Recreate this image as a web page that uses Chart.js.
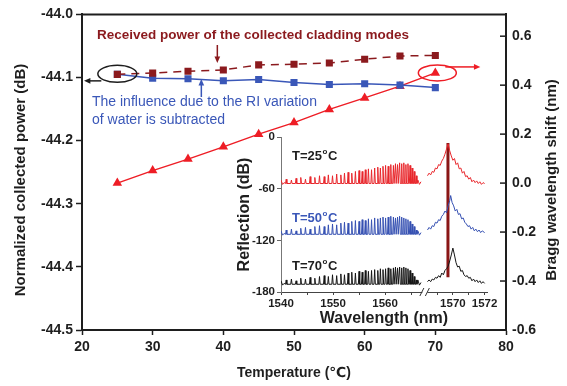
<!DOCTYPE html>
<html>
<head>
<meta charset="utf-8">
<script src="https://cdn.jsdelivr.net/npm/chart.js@4.4.0/dist/chart.umd.min.js"></script>
<style>
html, body { margin: 0; padding: 0; background: #fff; }
#wrap { position: relative; width: 567px; height: 386px; }
#main { position: absolute; left: 0; top: 0; }
#inset { position: absolute; left: 225px; top: 125px; }
</style>
</head>
<body>
<div id="wrap">
  <canvas id="main" width="567" height="386"></canvas>
  <canvas id="inset" width="280" height="205"></canvas>
</div>
<script>
// main plot data
const temps = [25, 30, 35, 40, 45, 50, 55, 60, 65, 70];
const cladPower = [-44.095, -44.093, -44.090, -44.088, -44.080, -44.079, -44.077, -44.071, -44.066, -44.065];
const corrPower = [-44.095, -44.101, -44.102, -44.105, -44.103, -44.108, -44.111, -44.110, -44.112, -44.116];
const braggShift = [0.00, 0.051, 0.098, 0.148, 0.200, 0.247, 0.301, 0.348, 0.396, 0.450];

const xTicks = [20, 30, 40, 50, 60, 70, 80];
const leftTicks = [-44.5, -44.4, -44.3, -44.2, -44.1, -44.0];
const rightTicks = [-0.6, -0.4, -0.2, 0, 0.2, 0.4, 0.6];

// inset spectra data (wavelength nm, reflection dB)
const fringePeaks = [1541.0, 1542.0, 1542.9, 1543.8, 1544.7, 1545.6, 1546.5, 1547.4, 1548.3, 1549.1,
  1549.9, 1550.7, 1551.5, 1552.2, 1552.9, 1553.6, 1554.3, 1555.0, 1555.6, 1556.2,
  1556.8, 1557.4, 1558.0, 1558.6, 1559.1, 1559.6, 1560.1, 1560.6, 1561.1, 1561.6,
  1562.0, 1562.4, 1562.8, 1563.2, 1563.6, 1564.0, 1564.4, 1564.8, 1565.2, 1565.6, 1566.0];
const red25Peaks = [-49, -50, -48, -47, -49, -46, -47, -45, -46, -44, -45, -43, -44, -42, -41, -42, -40, -39, -40, -38,
  -37, -38, -36, -35, -36, -34, -33, -34, -32, -33, -31, -32, -30, -31, -30, -32, -31, -33, -36, -40, -45];
const blue50Peaks = [-108, -107, -109, -106, -105, -107, -104, -103, -104, -102, -101, -102, -100, -99, -100, -98, -97, -98, -96, -97,
  -95, -96, -94, -95, -94, -93, -94, -93, -92, -93, -94, -93, -92, -93, -94, -95, -96, -98, -101, -104, -108];
const black70Peaks = [-166, -165, -167, -164, -165, -163, -164, -162, -161, -162, -160, -161, -159, -160, -158, -157, -158, -156, -157, -155,
  -156, -155, -154, -155, -153, -154, -153, -152, -153, -152, -151, -152, -151, -152, -151, -152, -153, -155, -158, -162, -166];
const red25Base = -54;
const blue50Base = -113;
const black70Base = -171;
const red25Head = [[1540.0, -50], [1540.3, -55], [1540.6, -53]];
const blue50Head = [[1540.0, -109], [1540.3, -114], [1540.6, -112]];
const black70Head = [[1540.0, -167], [1540.3, -172], [1540.6, -170]];
const red25Tail = [[1566.3, -50], [1566.6, -55], [1566.9, -52]];
const blue50Tail = [[1566.3, -109], [1566.6, -114], [1566.9, -111]];
const black70Tail = [[1566.3, -166], [1566.6, -172], [1566.9, -169]];
const red25Right = [[1568.4, -45], [1568.5, -42], [1568.6, -44], [1568.7, -40], [1568.8, -41], [1568.9, -36], [1569.0, -37],
  [1569.1, -32], [1569.2, -33], [1569.3, -28], [1569.4, -25], [1569.5, -20], [1569.6, -14], [1569.7, -8], [1569.8, -16],
  [1569.9, -22], [1570.0, -27], [1570.1, -25], [1570.2, -32], [1570.3, -30], [1570.4, -37], [1570.5, -36], [1570.6, -42],
  [1570.7, -40], [1570.8, -46], [1570.9, -45], [1571.0, -49], [1571.1, -47], [1571.2, -52], [1571.3, -50], [1571.4, -53],
  [1571.5, -51], [1571.6, -54], [1571.7, -52], [1571.8, -55], [1571.9, -53], [1572.0, -54]];
const blue50Right = [[1568.4, -108], [1568.5, -105], [1568.6, -107], [1568.7, -103], [1568.8, -104], [1568.9, -99], [1569.0, -100],
  [1569.1, -96], [1569.2, -97], [1569.3, -92], [1569.4, -90], [1569.5, -86], [1569.6, -88], [1569.7, -80], [1569.8, -74],
  [1569.86, -68], [1569.95, -76], [1570.05, -80], [1570.15, -86], [1570.25, -84], [1570.35, -90], [1570.45, -89], [1570.55, -95],
  [1570.65, -94], [1570.75, -99], [1570.85, -101], [1570.95, -104], [1571.05, -103], [1571.15, -107], [1571.25, -105],
  [1571.35, -109], [1571.45, -107], [1571.55, -110], [1571.65, -108], [1571.75, -111], [1571.85, -109], [1572.0, -111]];
const black70Right = [[1568.4, -168], [1568.5, -166], [1568.6, -168], [1568.7, -165], [1568.8, -166], [1568.9, -163], [1569.0, -164],
  [1569.1, -161], [1569.2, -163], [1569.3, -158], [1569.4, -160], [1569.5, -155], [1569.6, -153], [1569.7, -150], [1569.8, -144],
  [1569.9, -137], [1570.0, -129], [1570.1, -137], [1570.2, -146], [1570.3, -151], [1570.4, -150], [1570.5, -156], [1570.6, -155],
  [1570.7, -160], [1570.8, -162], [1570.9, -161], [1571.0, -164], [1571.1, -163], [1571.2, -167], [1571.3, -165], [1571.4, -168],
  [1571.5, -166], [1571.6, -169], [1571.7, -167], [1571.8, -170], [1571.9, -168], [1572.0, -170]];
const braggLine = [[1569.69, -7], [1569.69, -163]];

const insetMajor = [1540, 1550, 1560, 1570, 1572];
const insetMinor = [1545, 1555, 1565, 1569, 1571];
const insetYTicks = [-180, -120, -60, 0];

const FONT = "'Liberation Sans', Arial, 'DejaVu Sans', sans-serif";
const DARKRED = '#8b1a1e';
const BLUE = '#3a57b8';
const RED = '#ee1d25';
const INK = '#1e1e1e';

// broken wavelength axis: right part (after the //) is stretched
function toU(l) { return l < 1568 ? l : 1568 + (l - 1568.35) * 3.05; }

function spectrum(head, peakVals, base, tail, right) {
  const pts = head.map(p => ({ x: toU(p[0]), y: p[1] }));
  fringePeaks.forEach((l, i) => {
    const prev = i > 0 ? fringePeaks[i - 1] : l - 1;
    const next = i < fringePeaks.length - 1 ? fringePeaks[i + 1] : l + 1;
    const w1 = Math.min(0.13, (l - prev) / 2);
    const w2 = Math.min(0.13, (next - l) / 2);
    pts.push({ x: l - w1, y: base }, { x: l, y: peakVals[i] }, { x: l + w2, y: base });
  });
  tail.forEach(p => pts.push({ x: toU(p[0]), y: p[1] }));
  pts.push({ x: 1567.6, y: null });
  right.forEach(p => pts.push({ x: toU(p[0]), y: p[1] }));
  return pts;
}

function arrow(ctx, x1, y1, x2, y2, color) {
  const head = 7;
  ctx.strokeStyle = color; ctx.fillStyle = color; ctx.lineWidth = 1.5;
  const ang = Math.atan2(y2 - y1, x2 - x1);
  ctx.beginPath(); ctx.moveTo(x1, y1);
  ctx.lineTo(x2 - head * 0.7 * Math.cos(ang), y2 - head * 0.7 * Math.sin(ang)); ctx.stroke();
  ctx.beginPath(); ctx.moveTo(x2, y2);
  ctx.lineTo(x2 - head * Math.cos(ang - 0.42), y2 - head * Math.sin(ang - 0.42));
  ctx.lineTo(x2 - head * Math.cos(ang + 0.42), y2 - head * Math.sin(ang + 0.42));
  ctx.closePath(); ctx.fill();
}

function degLabel(ctx, pre, x, y, color) {
  ctx.fillStyle = color;
  ctx.font = 'bold 13px ' + FONT;
  ctx.fillText(pre, x, y);
  let w = ctx.measureText(pre).width;
  ctx.font = 'bold 8px ' + FONT;
  ctx.fillText('o', x + w + 0.5, y - 6);
  const w2 = ctx.measureText('o').width;
  ctx.font = 'bold 13px ' + FONT;
  ctx.fillText('C', x + w + w2 + 1, y);
}

function vTitle(ctx, text, cx, cy) {
  ctx.save();
  ctx.translate(cx, cy);
  ctx.rotate(-Math.PI / 2);
  ctx.font = 'bold 15px ' + FONT;
  ctx.fillStyle = INK;
  ctx.textAlign = 'center';
  ctx.textBaseline = 'middle';
  ctx.fillText(text, 0, 0);
  ctx.restore();
}

const mainDeco = {
  id: 'mainDeco',
  afterDraw(chart) {
    const { ctx, chartArea: a, scales: { x, y, y2 } } = chart;
    ctx.save();
    ctx.strokeStyle = INK; ctx.lineWidth = 2;
    ctx.beginPath(); ctx.moveTo(a.left - 1, a.top); ctx.lineTo(a.right + 1, a.top); ctx.stroke();
    ctx.lineWidth = 1.5;
    rightTicks.forEach(v => {
      const py = y2.getPixelForValue(v);
      ctx.beginPath(); ctx.moveTo(a.right - 6, py); ctx.lineTo(a.right, py); ctx.stroke();
    });

    vTitle(ctx, 'Normalized collected power (dB)', 21, 180);
    vTitle(ctx, 'Bragg wavelength shift (nm)', 552, 180);

    ctx.textBaseline = 'alphabetic';
    ctx.fillStyle = DARKRED;
    ctx.font = 'bold 13.5px ' + FONT;
    ctx.fillText('Received power of the collected cladding modes', 97, 39);
    ctx.fillStyle = BLUE;
    ctx.font = '14px ' + FONT;
    ctx.fillText('The influence due to the RI variation', 92, 106);
    ctx.fillText('of water is subtracted', 92, 124);

    // ellipses and arrows
    const bx = x.getPixelForValue(temps[0]), by = y.getPixelForValue(cladPower[0]);
    ctx.strokeStyle = INK; ctx.lineWidth = 1.5;
    ctx.beginPath(); ctx.ellipse(bx, by - 0.5, 19.5, 8.5, 0, 0, Math.PI * 2); ctx.stroke();
    arrow(ctx, bx - 16, by + 6.5, a.left + 2, by + 6.5, INK);

    const rx = x.getPixelForValue(temps[9]) + 2, ry = y2.getPixelForValue(braggShift[9]);
    ctx.strokeStyle = RED;
    ctx.beginPath(); ctx.ellipse(rx, ry, 19, 8, 0, 0, Math.PI * 2); ctx.stroke();
    arrow(ctx, rx + 8, ry - 6, rx + 43, ry - 6, RED);

    const dx = x.getPixelForValue(temps[3]) - 6;
    arrow(ctx, dx, 45, dx, 63, DARKRED);
    const ux = x.getPixelForValue(temps[3]) - 22;
    arrow(ctx, ux, 97, ux, 79, BLUE);

    degLabel(ctx, 'T=25', 292, 160, INK);
    degLabel(ctx, 'T=50', 292, 222, BLUE);
    degLabel(ctx, 'T=70', 292, 270, INK);
    ctx.restore();
  }
};

const tickFont = { family: FONT, size: 14, weight: 'bold' };
const titleFont = { family: FONT, size: 14, weight: 'bold' };

new Chart(document.getElementById('main'), {
  type: 'line',
  data: {
    datasets: [
      {
        label: 'cladding', data: temps.map((t, i) => ({ x: t, y: cladPower[i] })), yAxisID: 'y',
        borderColor: DARKRED, backgroundColor: DARKRED, borderWidth: 1.5, borderDash: [8, 6],
        pointStyle: 'rect', pointRadius: 5, pointBorderWidth: 0
      },
      {
        label: 'corrected', data: temps.map((t, i) => ({ x: t, y: corrPower[i] })), yAxisID: 'y',
        borderColor: BLUE, backgroundColor: BLUE, borderWidth: 1.5, pointStyle: 'rect', pointRadius: 5, pointBorderWidth: 0
      },
      {
        label: 'bragg', data: temps.map((t, i) => ({ x: t, y: braggShift[i] })), yAxisID: 'y2',
        borderColor: RED, backgroundColor: RED, borderWidth: 1.5, pointStyle: 'triangle', pointRadius: 5.5, pointBorderWidth: 0
      }
    ]
  },
  options: {
    responsive: false,
    animation: false,
    layout: { padding: { top: 12, left: 0, right: 0, bottom: 0 } },
    plugins: { legend: { display: false }, tooltip: { enabled: false } },
    scales: {
      x: {
        type: 'linear', min: 20, max: 80,
        afterBuildTicks: s => { s.ticks = xTicks.map(v => ({ value: v })); },
        afterFit: s => { s.height = 56; },
        ticks: { font: tickFont, color: INK, padding: 4, maxRotation: 0, autoSkip: false },
        grid: { drawOnChartArea: false, tickLength: 5, tickColor: INK, tickWidth: 1.5 },
        border: { color: INK, width: 2 },
        title: { display: true, text: 'Temperature (\u2103)', font: titleFont, color: INK, padding: { top: 0, bottom: 4 } }
      },
      y: {
        position: 'left', min: -44.5, max: -44.0,
        afterBuildTicks: s => { s.ticks = leftTicks.map(v => ({ value: v })); },
        afterFit: s => { s.width = 82; },
        ticks: { font: tickFont, color: INK, padding: 3, callback: v => Number(v).toFixed(1) },
        grid: { drawOnChartArea: false, tickLength: 6, tickColor: INK, tickWidth: 1.5 },
        border: { color: INK, width: 2 }
      },
      y2: {
        position: 'right', min: -0.6, max: 0.689,
        afterBuildTicks: s => { s.ticks = rightTicks.map(v => ({ value: v })); },
        afterFit: s => { s.width = 61; },
        ticks: { font: tickFont, color: INK, padding: 6, callback: v => Number(v).toFixed(1) },
        grid: { drawOnChartArea: false, drawTicks: false },
        border: { color: INK, width: 2 }
      }
    }
  },
  plugins: [mainDeco]
});

const insetDeco = {
  id: 'insetDeco',
  afterDraw(chart) {
    const { ctx, chartArea: a, scales: { x } } = chart;
    const px = x.getPixelForValue(1567.65), py = a.bottom;
    ctx.save();
    ctx.fillStyle = '#fff';
    ctx.fillRect(px - 2.5, py - 2, 5, 4);
    ctx.strokeStyle = '#333'; ctx.lineWidth = 1;
    ctx.beginPath();
    ctx.moveTo(px - 5, py + 4); ctx.lineTo(px - 1, py - 4);
    ctx.moveTo(px + 0.5, py + 4); ctx.lineTo(px + 4.5, py - 4);
    ctx.stroke();
    ctx.restore();
  }
};

const smallFont = { family: FONT, size: 11.5, weight: 'bold' };

new Chart(document.getElementById('inset'), {
  type: 'line',
  data: {
    datasets: [
      { data: spectrum(red25Head, red25Peaks, red25Base, red25Tail, red25Right), borderColor: '#e8262b', borderWidth: 1, pointRadius: 0, spanGaps: false },
      { data: spectrum(blue50Head, blue50Peaks, blue50Base, blue50Tail, blue50Right), borderColor: '#3550b2', borderWidth: 1, pointRadius: 0, spanGaps: false },
      { data: spectrum(black70Head, black70Peaks, black70Base, black70Tail, black70Right), borderColor: '#151515', borderWidth: 1, pointRadius: 0, spanGaps: false },
      { data: braggLine.map(p => ({ x: toU(p[0]), y: p[1] })), borderColor: '#8a1616', borderWidth: 3, pointRadius: 0 }
    ]
  },
  options: {
    responsive: false,
    animation: false,
    layout: { padding: { top: 12, left: 0, right: 18, bottom: 0 } },
    plugins: { legend: { display: false }, tooltip: { enabled: false } },
    elements: { line: { tension: 0 } },
    scales: {
      x: {
        type: 'linear', min: 1540, max: toU(1572.15),
        afterBuildTicks: s => { s.ticks = insetMajor.concat(insetMinor).map(toU).sort((a, b) => a - b).map(v => ({ value: v })); },
        afterFit: s => { s.height = 38; },
        ticks: {
          font: smallFont, color: INK, padding: 2, maxRotation: 0, autoSkip: false,
          callback: v => { const l = insetMajor.find(m => Math.abs(toU(m) - v) < 1e-6); return l === undefined ? '' : String(l); }
        },
        grid: { drawOnChartArea: false, tickLength: 3, tickColor: '#444', tickWidth: 1 },
        border: { color: '#444', width: 1 },
        title: { display: true, text: 'Wavelength (nm)', font: { family: FONT, size: 16, weight: 'bold' }, color: INK, padding: { top: 0, bottom: 2 } }
      },
      y: {
        min: -180, max: 0,
        afterBuildTicks: s => { s.ticks = insetYTicks.map(v => ({ value: v })); },
        afterFit: s => { s.width = 56; },
        ticks: { font: smallFont, color: INK, padding: 2 },
        grid: { drawOnChartArea: false, tickLength: 4, tickColor: '#666', tickWidth: 1 },
        border: { color: '#777', width: 1 },
        title: { display: true, text: 'Reflection (dB)', font: { family: FONT, size: 16, weight: 'bold' }, color: INK, padding: { top: 10, bottom: 0 } }
      }
    }
  },
  plugins: [insetDeco]
});
</script>
</body>
</html>
